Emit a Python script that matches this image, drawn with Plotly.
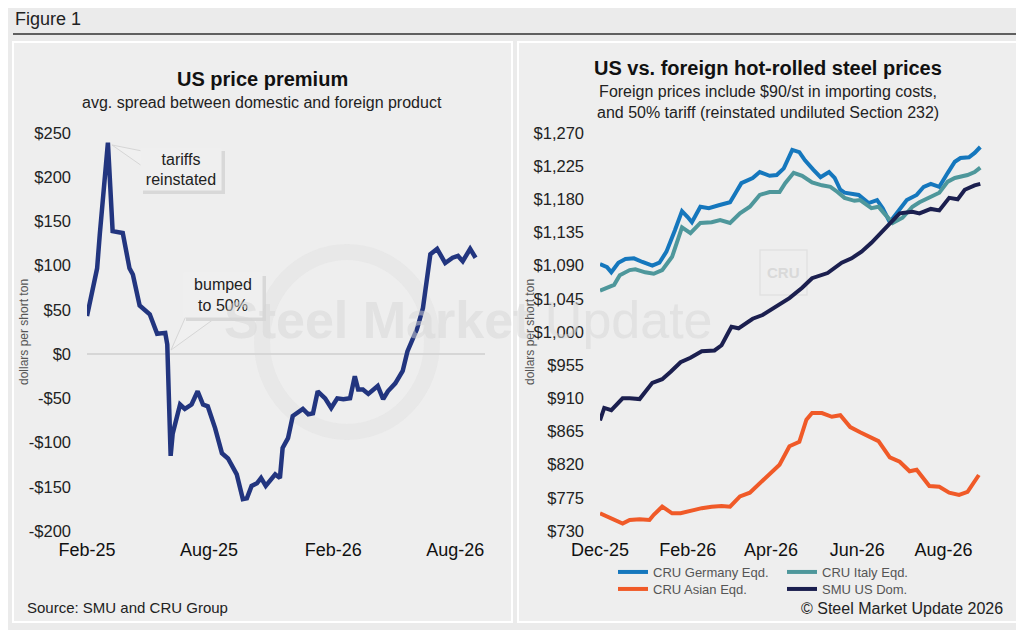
import plotly.graph_objects as go

# ---- US price premium (left panel) ----
premium_dates = [
    "2025-02-01", "2025-02-16", "2025-02-20", "2025-03-04", "2025-03-11", "2025-03-26",
    "2025-04-05", "2025-04-10", "2025-04-20", "2025-05-05", "2025-05-16", "2025-05-28",
    "2025-05-31", "2025-06-05", "2025-06-08", "2025-06-19", "2025-06-26", "2025-07-06",
    "2025-07-15", "2025-07-23", "2025-07-30", "2025-08-10", "2025-08-20", "2025-08-29",
    "2025-09-11", "2025-09-20", "2025-09-26", "2025-10-03", "2025-10-11", "2025-10-17",
    "2025-10-24", "2025-11-07", "2025-11-14", "2025-11-18", "2025-11-26", "2025-12-03",
    "2025-12-18", "2025-12-26", "2026-01-02", "2026-01-09", "2026-01-20", "2026-01-29",
    "2026-02-07", "2026-02-16", "2026-02-26", "2026-03-05", "2026-03-10", "2026-03-17",
    "2026-03-25", "2026-04-01", "2026-04-08", "2026-04-16", "2026-04-23", "2026-05-04",
    "2026-05-15", "2026-05-22", "2026-06-05", "2026-06-14", "2026-06-25", "2026-07-05",
    "2026-07-17", "2026-07-28", "2026-08-05", "2026-08-12", "2026-08-23", "2026-08-31",
]
premium_values = [
    43, 97, 136, 239, 139, 137,
    97, 90, 55, 45, 23, 24,
    11, -115, -90, -57, -62, -57,
    -42, -57, -59, -84, -112, -118,
    -136, -164, -163, -149, -146, -140,
    -149, -136, -140, -106, -95, -70,
    -62, -68, -67, -42, -50, -61,
    -50, -51, -50, -25, -40, -40,
    -45, -40, -36, -51, -42, -33,
    -19, 3, 28, 52, 113, 119,
    103, 109, 111, 105, 119, 109,
]
premium_ticks = [-200, -150, -100, -50, 0, 50, 100, 150, 200, 250]
premium_ticktext = ["-$200", "-$150", "-$100", "-$50", "$0", "$50", "$100", "$150", "$200", "$250"]

# ---- US vs foreign prices (right panel) ----
germany_dates = [
    "2025-12-01", "2025-12-06", "2025-12-09", "2025-12-14", "2025-12-19", "2025-12-25",
    "2025-12-31", "2026-01-07", "2026-01-12", "2026-01-17", "2026-01-23", "2026-01-28",
    "2026-02-01", "2026-02-04", "2026-02-10", "2026-02-16", "2026-02-23", "2026-03-03",
    "2026-03-07", "2026-03-11", "2026-03-19", "2026-03-24", "2026-03-31", "2026-04-05",
    "2026-04-10", "2026-04-16", "2026-04-21", "2026-04-25", "2026-05-01", "2026-05-06",
    "2026-05-12", "2026-05-16", "2026-05-20", "2026-05-23", "2026-06-02", "2026-06-09",
    "2026-06-15", "2026-06-19", "2026-06-24", "2026-06-29", "2026-07-06", "2026-07-13",
    "2026-07-18", "2026-07-23", "2026-07-29", "2026-08-04", "2026-08-09", "2026-08-13",
    "2026-08-19", "2026-08-23", "2026-08-27",
]
germany_price = [
    1092, 1088, 1081, 1094, 1099, 1100,
    1095, 1090, 1094, 1109, 1138, 1164,
    1156, 1149, 1170, 1168, 1172, 1176,
    1189, 1202, 1209, 1217, 1212, 1213,
    1222, 1247, 1244, 1233, 1220, 1210,
    1217, 1209, 1193, 1189, 1186, 1175,
    1179, 1168, 1149, 1161, 1179, 1186,
    1197, 1201, 1197, 1216, 1231, 1236,
    1237, 1243, 1251,
]

italy_dates = [
    "2025-12-01", "2025-12-06", "2025-12-11", "2025-12-15", "2025-12-22", "2025-12-26",
    "2026-01-02", "2026-01-08", "2026-01-14", "2026-01-21", "2026-01-28", "2026-02-03",
    "2026-02-10", "2026-02-18", "2026-02-24", "2026-03-03", "2026-03-10", "2026-03-17",
    "2026-03-24", "2026-03-31", "2026-04-07", "2026-04-11", "2026-04-17", "2026-04-23",
    "2026-04-30", "2026-05-07", "2026-05-13", "2026-05-18", "2026-05-23", "2026-05-30",
    "2026-06-03", "2026-06-11", "2026-06-16", "2026-06-20", "2026-06-26", "2026-07-03",
    "2026-07-10", "2026-07-15", "2026-07-23", "2026-07-29", "2026-08-04", "2026-08-09",
    "2026-08-18", "2026-08-23", "2026-08-27",
]
italy_price = [
    1056, 1060, 1064, 1077, 1084, 1085,
    1081, 1079, 1084, 1102, 1142, 1134,
    1148, 1149, 1152, 1148, 1161, 1170,
    1186, 1190, 1190, 1202, 1216, 1212,
    1203, 1199, 1197, 1190, 1182, 1178,
    1179, 1168, 1170, 1161, 1148, 1155,
    1170, 1176, 1183, 1189, 1204, 1209,
    1213, 1217, 1223,
]

asian_dates = [
    "2025-12-01", "2025-12-08", "2025-12-17", "2025-12-22", "2025-12-29", "2026-01-05",
    "2026-01-08", "2026-01-14", "2026-01-21", "2026-01-27", "2026-02-04", "2026-02-11",
    "2026-02-18", "2026-02-25", "2026-03-03", "2026-03-10", "2026-03-17", "2026-03-24",
    "2026-04-03", "2026-04-07", "2026-04-14", "2026-04-21", "2026-04-26", "2026-04-30",
    "2026-05-07", "2026-05-14", "2026-05-20", "2026-05-27", "2026-06-03", "2026-06-09",
    "2026-06-16", "2026-06-24", "2026-07-01", "2026-07-08", "2026-07-13", "2026-07-22",
    "2026-07-29", "2026-08-05", "2026-08-12", "2026-08-18", "2026-08-26",
]
asian_price = [
    754, 748, 740, 745, 746, 745,
    752, 763, 754, 754, 758, 761,
    763, 764, 763, 777, 782, 795,
    813, 820, 845, 851, 881, 890,
    890, 885, 887, 871, 864, 859,
    852, 830, 824, 811, 813, 791,
    790, 782, 779, 783, 806,
]

smu_dates = [
    "2025-12-01", "2025-12-04", "2025-12-09", "2025-12-17", "2025-12-22", "2025-12-29",
    "2026-01-07", "2026-01-14", "2026-01-20", "2026-01-27", "2026-02-03", "2026-02-11",
    "2026-02-20", "2026-02-25", "2026-03-02", "2026-03-04", "2026-03-09", "2026-03-19",
    "2026-03-26", "2026-04-04", "2026-04-14", "2026-04-23", "2026-04-30", "2026-05-11",
    "2026-05-21", "2026-05-28", "2026-06-04", "2026-06-11", "2026-06-19", "2026-06-26",
    "2026-07-01", "2026-07-10", "2026-07-15", "2026-07-23", "2026-07-29", "2026-08-05",
    "2026-08-11", "2026-08-16", "2026-08-23", "2026-08-27",
]
smu_price = [
    880, 897, 894, 910, 910, 909,
    931, 936, 946, 959, 965, 974,
    975, 982, 1000, 1007, 1005, 1018,
    1023, 1034, 1046, 1060, 1073, 1080,
    1094, 1100, 1109, 1121, 1136, 1151,
    1161, 1163, 1161, 1167, 1165, 1182,
    1180, 1193, 1199, 1201,
]
price_ticks = [730, 775, 820, 865, 910, 955, 1000, 1045, 1090, 1135, 1180, 1225, 1270]
price_ticktext = ["$730", "$775", "$820", "$865", "$910", "$955", "$1,000", "$1,045",
                  "$1,090", "$1,135", "$1,180", "$1,225", "$1,270"]

FONT = "Liberation Sans"
W, H = 1024, 630
OFF = 8  # page margin around the figure


def px_x(v):
    return (v - OFF) / W


def px_y(v):
    return 1 - (v - OFF) / H


def wedge(points):
    # small callout pointer, given in page pixels
    parts = [f"{px_x(x):.5f},{px_y(y):.5f}" for x, y in points]
    return "M " + " L ".join(parts) + " Z"


def label(text, x, y, size, color="#222222", **kw):
    return dict(text=text, x=px_x(x), y=px_y(y), xref="paper", yref="paper",
                xanchor=kw.pop("xanchor", "center"), yanchor="middle", showarrow=False,
                font=dict(size=size, color=color, family=FONT), **kw)


fig = go.Figure()

fig.add_trace(go.Scatter(
    x=premium_dates, y=premium_values, mode="lines", xaxis="x", yaxis="y",
    line=dict(color="#22357f", width=4.5), showlegend=False,
))
fig.add_trace(go.Scatter(
    x=germany_dates, y=germany_price, mode="lines", xaxis="x2", yaxis="y2",
    name="CRU Germany Eqd.", line=dict(color="#1577bd", width=4), legend="legend",
))
fig.add_trace(go.Scatter(
    x=italy_dates, y=italy_price, mode="lines", xaxis="x2", yaxis="y2",
    name="CRU Italy Eqd.", line=dict(color="#4e979b", width=4), legend="legend",
))
fig.add_trace(go.Scatter(
    x=asian_dates, y=asian_price, mode="lines", xaxis="x2", yaxis="y2",
    name="CRU Asian Eqd.", line=dict(color="#f05a28", width=4), legend="legend2",
))
fig.add_trace(go.Scatter(
    x=smu_dates, y=smu_price, mode="lines", xaxis="x2", yaxis="y2",
    name="SMU US Dom.", line=dict(color="#1b1f4f", width=4), legend="legend2",
))

axis_common = dict(showgrid=False, showline=False, ticks="", fixedrange=True, automargin=False)

shapes = [
    dict(type="rect", xref="paper", yref="paper", layer="below",
         x0=px_x(13), x1=px_x(512), y0=px_y(622), y1=px_y(42),
         fillcolor="#eeeeee", line=dict(color="white", width=2)),
    dict(type="rect", xref="paper", yref="paper", layer="below",
         x0=px_x(518), x1=px_x(1017), y0=px_y(622), y1=px_y(42),
         fillcolor="#eeeeee", line=dict(color="white", width=2)),
    dict(type="line", xref="paper", yref="paper",
         x0=px_x(13), x1=px_x(1017), y0=px_y(34), y1=px_y(34),
         line=dict(color="#5f5f5f", width=2)),
    # faint watermark ring
    dict(type="circle", xref="paper", yref="paper", layer="below",
         x0=px_x(262), x1=px_x(432), y0=px_y(432), y1=px_y(252),
         line=dict(color="rgba(231,231,231,0.9)", width=16)),
    # CRU logo box
    dict(type="rect", xref="paper", yref="paper", layer="below",
         x0=px_x(760), x1=px_x(807), y0=px_y(295), y1=px_y(250),
         line=dict(color="#e2e2e2", width=1.5), fillcolor="rgba(0,0,0,0)"),
    # callout pointers
    dict(type="path", xref="paper", yref="paper",
         path=wedge([(112, 145), (142, 151), (142, 166)]),
         fillcolor="#f0f0f0", line=dict(color="#d6d6d6", width=1)),
    dict(type="path", xref="paper", yref="paper",
         path=wedge([(171, 350), (186, 316), (218, 316)]),
         fillcolor="#f0f0f0", line=dict(color="#d6d6d6", width=1)),
    # callout shadows
    dict(type="rect", xref="paper", yref="paper",
         x0=px_x(143), x1=px_x(225), y0=px_y(194), y1=px_y(151),
         fillcolor="#d8d8d8", line=dict(width=0)),
    dict(type="rect", xref="paper", yref="paper",
         x0=px_x(186), x1=px_x(266), y0=px_y(321), y1=px_y(276),
         fillcolor="#d8d8d8", line=dict(width=0)),
]

annotations = [
    label("Figure 1", 13, 19, 18, xanchor="left"),
    label("<b>US price premium</b>", 262, 79, 20, "#111111"),
    label("avg. spread between domestic and foreign product", 262, 102, 16),
    label("<b>US vs. foreign hot-rolled steel prices</b>", 768, 68, 20, "#111111"),
    label("Foreign prices include $90/st in importing costs,<br>"
          "and 50% tariff (reinstated undiluted Section 232)", 768, 102, 16),
    label("dollars per short ton", 24, 332, 12, "#555555", textangle=-90),
    label("dollars per short ton", 530, 332, 12, "#555555", textangle=-90),
    label("Source: SMU and CRU Group", 25, 607, 15, xanchor="left"),
    label("© Steel Market Update 2026", 1005, 608, 16, xanchor="right"),
    # callout boxes
    label("tariffs<br>reinstated", 181, 169, 16, width=76, height=37, borderpad=2,
          bgcolor="#efefef"),
    label("bumped<br>to 50%", 223, 295, 16, width=74, height=40, borderpad=2,
          bgcolor="#efefef"),
    # watermarks
    label("<b>Steel Market</b> Update", 468, 320, 52, "rgba(214,214,214,0.5)"),
    label("<b>CRU</b>", 783, 272, 15, "#d9d9d9"),
]

fig.update_layout(
    width=W, height=H,
    margin=dict(l=0, r=0, t=0, b=0, autoexpand=False),
    paper_bgcolor="#ebebeb", plot_bgcolor="rgba(0,0,0,0)",
    font=dict(family=FONT, color="#222222"),
    xaxis=dict(domain=[px_x(87), px_x(485)], range=["2025-02-01", "2026-09-14"],
               type="date", tick0="2025-02-01", dtick="M6", tickformat="%b-%y",
               tickfont=dict(size=18, color="#111111"), ticklabelstandoff=6,
               zeroline=False, anchor="y", **axis_common),
    yaxis=dict(domain=[px_y(531), px_y(133)], range=[-200, 250],
               tickvals=premium_ticks, ticktext=premium_ticktext,
               tickfont=dict(size=16.5, color="#222222"), ticklabelstandoff=15,
               zeroline=True, zerolinecolor="#d6d6d6", zerolinewidth=1.5,
               anchor="x", **axis_common),
    xaxis2=dict(domain=[px_x(600), px_x(993)], range=["2025-12-01", "2026-09-05"],
                type="date", tick0="2025-12-01", dtick="M2", tickformat="%b-%y",
                tickfont=dict(size=18, color="#111111"), ticklabelstandoff=6,
                zeroline=False, anchor="y2", **axis_common),
    yaxis2=dict(domain=[px_y(531), px_y(133)], range=[730, 1270],
                tickvals=price_ticks, ticktext=price_ticktext,
                tickfont=dict(size=16.5, color="#222222"), ticklabelstandoff=15,
                zeroline=False, anchor="x2", **axis_common),
    legend=dict(orientation="h", x=px_x(613), y=px_y(572), xanchor="left", yanchor="middle",
                entrywidth=124, entrywidthmode="pixels", bgcolor="rgba(0,0,0,0)",
                font=dict(size=13, color="#555555"), itemclick=False),
    legend2=dict(orientation="h", x=px_x(613), y=px_y(589), xanchor="left", yanchor="middle",
                 entrywidth=124, entrywidthmode="pixels", bgcolor="rgba(0,0,0,0)",
                 font=dict(size=13, color="#555555"), itemclick=False),
    shapes=shapes,
    annotations=annotations,
)

fig.write_html("out.html")
